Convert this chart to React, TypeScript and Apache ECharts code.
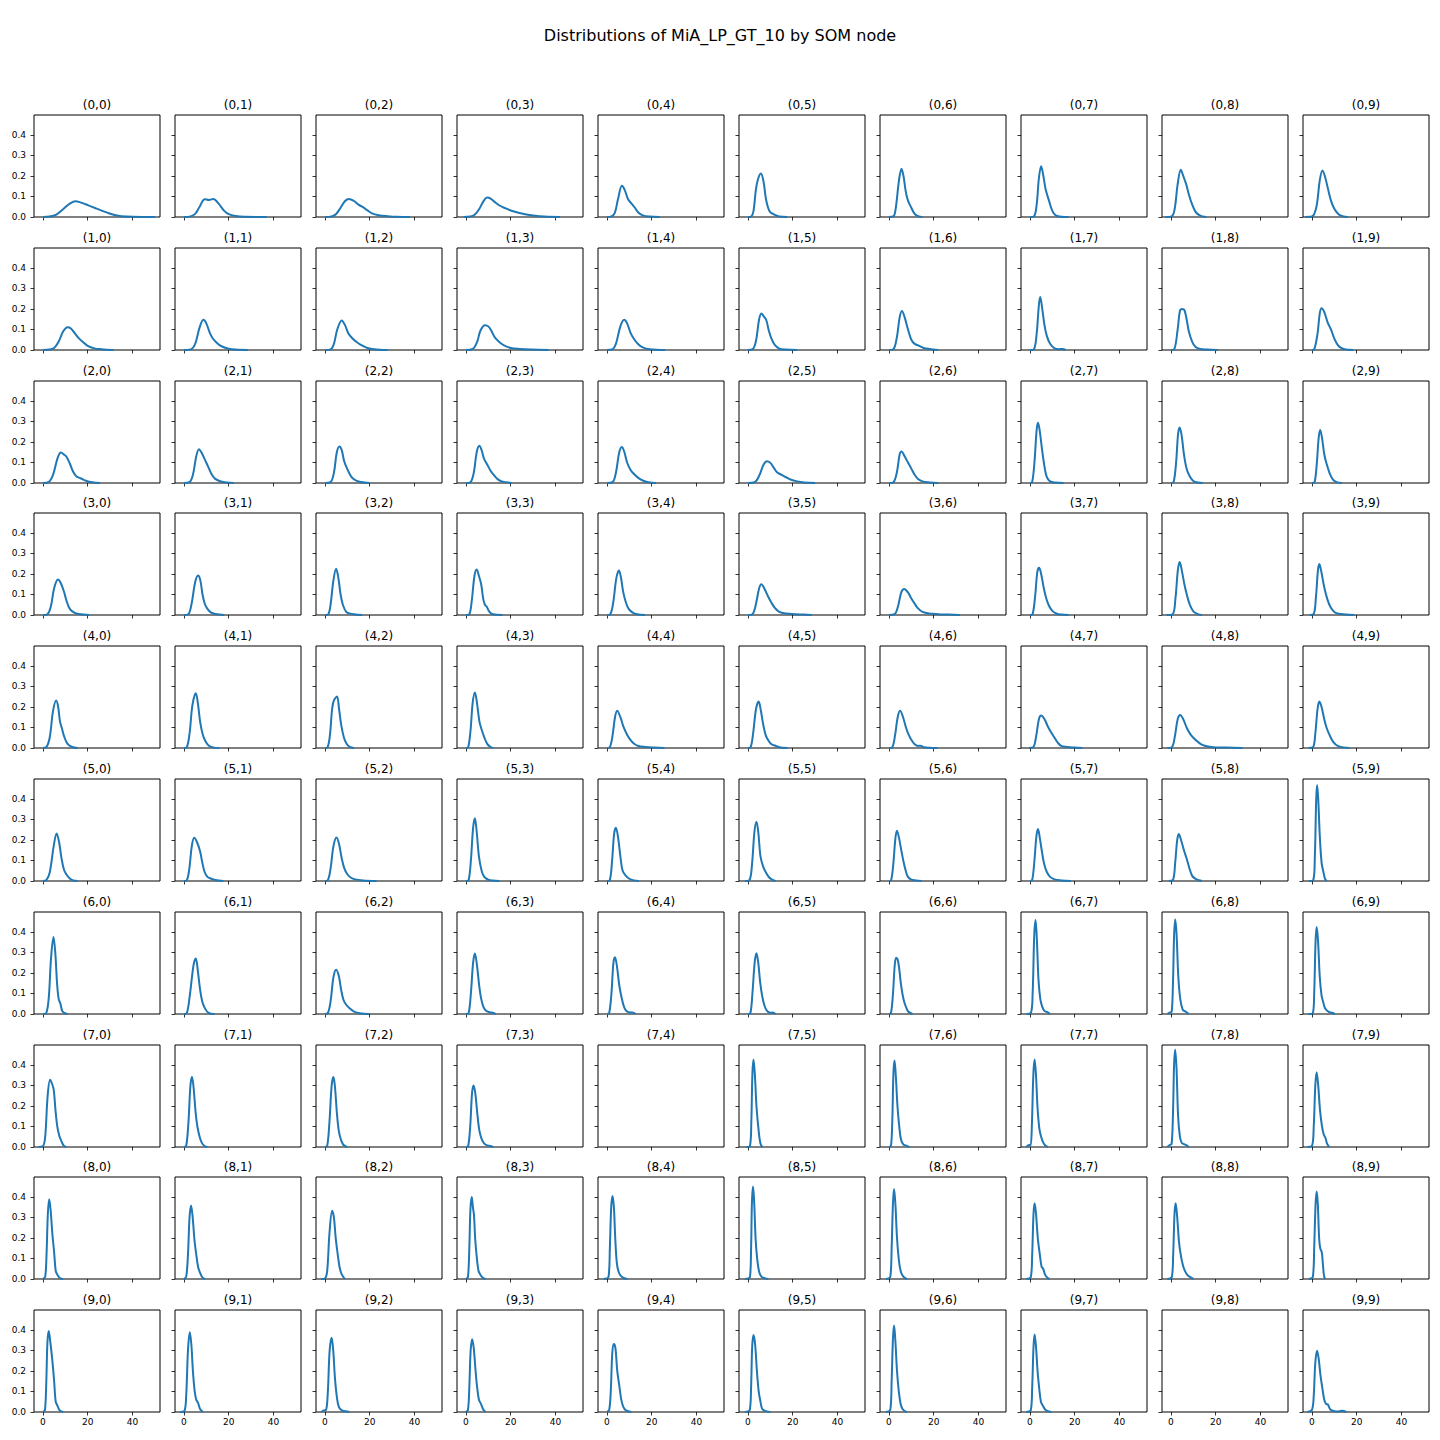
import React, { useEffect, useRef } from "react";
import * as echarts from "echarts";

type Pt = [number, number];
type Curve = Pt[] | null;

const suptitle = "Distributions of MiA_LP_GT_10 by SOM node";
const xTicks = [0, 20, 40];
const yTicks = [0, 0.1, 0.2, 0.3, 0.4];
const xRange = [-4, 52.3];
const yRange = [0, 0.497];

const row0: Curve[] = [
  [[0,0],[3,0.002],[6,0.012],[9,0.038],[12,0.065],[14.5,0.077],[17,0.07],[20,0.058],[23,0.045],[26,0.032],[29,0.02],[32,0.01],[35,0.004],[40,0.001],[50,0]],
  [[0,0],[3,0.003],[5,0.015],[7,0.05],[9.3,0.087],[11.2,0.083],[13.2,0.088],[15.5,0.065],[18,0.03],[20,0.014],[23,0.005],[27,0.001],[37,0]],
  [[0,0],[3,0.003],[5,0.015],[7,0.045],[9,0.078],[10.7,0.088],[13,0.078],[15,0.06],[17,0.048],[19,0.032],[21,0.018],[24,0.009],[28,0.004],[32,0.001],[38,0]],
  [[-1,0],[2,0.002],[4,0.012],[6,0.04],[8,0.08],[9.5,0.095],[11,0.09],[13,0.072],[15,0.056],[17.5,0.043],[20,0.032],[23.5,0.021],[27,0.012],[30,0.007],[35,0.002],[42,0]],
  [[0,0],[2,0.003],[3.5,0.02],[5,0.09],[6.7,0.152],[8,0.13],[9.5,0.085],[11,0.065],[12.5,0.045],[14,0.022],[16,0.008],[19,0.002],[23.5,0]],
  [[0,0],[1.5,0.003],[2.5,0.03],[3.5,0.13],[4.5,0.185],[5.8,0.212],[7,0.17],[8,0.09],[9,0.045],[10,0.022],[11,0.017],[12,0.01],[14,0.002],[17.5,0]],
  [[0,0],[2,0.003],[3,0.04],[4.5,0.18],[5.6,0.235],[6.5,0.2],[7.5,0.125],[8.5,0.08],[10,0.045],[11.5,0.015],[13,0.004],[15,0]],
  [[0,0],[1.8,0.003],[3,0.06],[4,0.19],[5,0.247],[6,0.2],[7,0.135],[8.5,0.08],[10,0.03],[11.5,0.008],[14,0.001],[17.3,0]],
  [[-2.5,0],[0,0.002],[1.5,0.03],[3,0.16],[4.4,0.23],[5.5,0.2],[6.8,0.16],[8,0.11],[9.5,0.06],[11,0.025],[12.5,0.01],[14,0.003],[15.8,0]],
  [[-3,0],[0,0.002],[2,0.05],[3.5,0.18],[4.7,0.227],[6,0.19],[7.2,0.135],[8.5,0.08],[10,0.04],[12,0.012],[14,0.003],[16,0]],
];

const row1: Curve[] = [
  [[0,0],[3,0.002],[5,0.01],[7,0.04],[9,0.09],[11,0.111],[12.5,0.105],[14,0.085],[16,0.058],[18,0.038],[20,0.02],[23,0.008],[26,0.004],[31.5,0]],
  [[0,0],[3,0.003],[5,0.03],[7,0.11],[8.7,0.147],[10,0.13],[11.5,0.085],[13,0.055],[15,0.032],[17,0.017],[20,0.006],[23,0.002],[28.5,0]],
  [[0,0],[2.5,0.003],[4,0.03],[5.5,0.1],[7.5,0.144],[9,0.12],[10.5,0.08],[12,0.06],[14,0.04],[16.5,0.022],[19,0.01],[22,0.004],[28,0]],
  [[0,0],[3,0.005],[5,0.04],[6.5,0.095],[8.5,0.121],[10,0.115],[11.5,0.09],[13,0.06],[15,0.038],[17,0.023],[20,0.01],[24,0.005],[29,0.002],[37,0]],
  [[0,0],[2.5,0.004],[4,0.03],[6,0.115],[7.7,0.147],[9,0.13],[10.5,0.085],[12,0.055],[14,0.028],[16,0.013],[19,0.004],[26,0]],
  [[0,0],[2,0.003],[3.5,0.04],[5,0.15],[6,0.178],[7,0.165],[8.2,0.145],[9.2,0.1],[10.5,0.055],[12,0.025],[14,0.007],[17,0.002],[22,0]],
  [[0,0],[2,0.004],[3.5,0.06],[4.8,0.16],[5.8,0.19],[7,0.16],[8.5,0.1],[10,0.05],[11.5,0.03],[13.5,0.02],[15.5,0.01],[18,0.005],[22,0]],
  [[0,0],[1.8,0.004],[3,0.08],[4,0.22],[4.6,0.258],[5.5,0.2],[6.5,0.12],[7.5,0.07],[9,0.03],[11,0.008],[13,0.004],[14.5,0.005],[16,0]],
  [[0,0],[1.5,0.004],[3,0.1],[4,0.19],[5,0.2],[6,0.195],[7,0.15],[8,0.09],[9.5,0.04],[11,0.015],[13,0.005],[16,0.002],[21,0]],
  [[0,0],[1,0.003],[2.5,0.08],[3.5,0.18],[4.3,0.204],[5.5,0.185],[7,0.135],[8.5,0.1],[10,0.055],[11.5,0.025],[13,0.01],[15,0.003],[18.5,0]],
];

const row2: Curve[] = [
  [[0,0],[2.5,0.004],[4.5,0.04],[6.5,0.12],[8,0.149],[9.5,0.138],[10.5,0.128],[12,0.095],[13.5,0.055],[15,0.032],[17,0.022],[19.5,0.01],[22,0.004],[25.5,0]],
  [[0,0],[2.5,0.004],[4,0.04],[5.5,0.13],[6.7,0.165],[8,0.145],[9.5,0.11],[11,0.075],[12.5,0.04],[14,0.02],[16.5,0.007],[19,0.002],[22.3,0]],
  [[0,0],[2.5,0.004],[4,0.05],[5.3,0.15],[6.5,0.178],[7.5,0.16],[8.5,0.11],[9.5,0.08],[11,0.045],[12.5,0.022],[15,0.007],[20,0]],
  [[0,0],[2,0.004],[3.5,0.05],[4.8,0.15],[6,0.181],[7,0.16],[8,0.12],[9.5,0.09],[11,0.06],[12.5,0.038],[14,0.02],[16,0.008],[20.4,0]],
  [[0,0],[2.5,0.004],[4,0.05],[5.5,0.15],[6.7,0.176],[7.8,0.15],[9,0.1],[10.5,0.065],[12,0.045],[14,0.025],[16,0.012],[18.5,0.004],[22,0]],
  [[0,0],[3,0.004],[5,0.035],[7,0.09],[8.5,0.106],[10,0.098],[11.5,0.075],[13,0.052],[15,0.04],[17,0.028],[19,0.017],[22,0.008],[25,0.003],[30,0]],
  [[0,0],[2,0.004],[3.5,0.05],[4.8,0.14],[5.6,0.154],[7,0.13],[8.5,0.1],[10,0.07],[11.5,0.04],[13,0.02],[15,0.008],[18,0.003],[22,0]],
  [[0,0],[1,0.005],[2,0.1],[3,0.26],[3.6,0.294],[4.3,0.26],[5.5,0.155],[6.5,0.08],[7.5,0.03],[9,0.008],[11,0.002],[15,0]],
  [[0,0],[1.2,0.005],[2.3,0.1],[3.2,0.24],[3.9,0.27],[4.8,0.23],[5.8,0.14],[7,0.07],[8.5,0.03],[10,0.01],[12,0.002],[14.2,0]],
  [[0,0],[1.2,0.005],[2.2,0.1],[3,0.22],[3.7,0.258],[4.5,0.22],[5.5,0.14],[6.5,0.095],[8,0.045],[9.5,0.015],[11,0.004],[13.4,0]],
];

const row3: Curve[] = [
  [[0,0],[2,0.004],[3.5,0.04],[5,0.13],[6.7,0.173],[8,0.155],[9.5,0.11],[10.5,0.07],[12,0.03],[14,0.012],[16,0.005],[20.7,0]],
  [[0,0],[2,0.004],[3.5,0.06],[5,0.16],[6.3,0.193],[7.3,0.17],[8.3,0.1],[9.3,0.055],[10.5,0.03],[12,0.013],[14,0.005],[18,0]],
  [[0,0],[1.5,0.004],[2.5,0.05],[3.8,0.17],[5,0.225],[6,0.18],[7,0.1],[8,0.05],[9.5,0.015],[11,0.008],[13,0.004],[16.7,0]],
  [[0,0],[1.5,0.004],[2.5,0.06],[3.8,0.19],[4.8,0.222],[5.8,0.19],[6.8,0.15],[7.7,0.08],[8.5,0.05],[9.3,0.04],[10.5,0.015],[12,0.004],[16.3,0]],
  [[0,0],[1.5,0.004],[2.8,0.06],[4.2,0.18],[5.4,0.217],[6.3,0.18],[7.3,0.11],[8.5,0.06],[9.7,0.03],[11.5,0.012],[13.5,0.004],[17,0]],
  [[0,0],[2,0.004],[3.5,0.05],[5,0.13],[6,0.15],[7.5,0.125],[9,0.09],[10.5,0.06],[12,0.035],[14,0.015],[17,0.007],[21,0.004],[25,0.002],[28.5,0]],
  [[0,0],[2.5,0.004],[4,0.04],[5.5,0.11],[6.8,0.127],[8.5,0.11],[10,0.08],[11.5,0.055],[13,0.032],[15,0.015],[18,0.007],[22,0.004],[27,0.002],[31.7,0]],
  [[0,0],[1.2,0.005],[2.3,0.09],[3.3,0.21],[4.1,0.23],[5,0.2],[6.2,0.13],[7.3,0.08],[8.5,0.045],[10,0.02],[12,0.006],[14,0.002],[17.3,0]],
  [[-2,0],[0.8,0.004],[2,0.08],[3.1,0.22],[3.9,0.258],[4.8,0.22],[6,0.15],[7.3,0.09],[8.5,0.048],[10,0.018],[12,0.004],[13.8,0]],
  [[-1,0],[0.8,0.005],[1.8,0.09],[2.7,0.22],[3.3,0.248],[4.2,0.21],[5.5,0.135],[6.8,0.08],[8.2,0.04],[10,0.015],[12,0.006],[15,0.003],[19,0]],
];

const row4: Curve[] = [
  [[0,0],[1.5,0.004],[3,0.05],[4.5,0.18],[5.9,0.231],[6.8,0.2],[7.6,0.13],[8.5,0.095],[9.5,0.055],[11,0.02],[13,0.005],[15.5,0]],
  [[0,0],[1.3,0.004],[2.5,0.07],[3.8,0.21],[5.3,0.267],[6.2,0.22],[7.2,0.13],[8.3,0.07],[9.5,0.035],[11,0.012],[13,0.003],[15.7,0]],
  [[0,0],[1.2,0.004],[2.2,0.06],[3.2,0.19],[4,0.232],[5.4,0.251],[6.3,0.19],[7.3,0.11],[8.5,0.05],[9.6,0.022],[11,0.006],[13,0]],
  [[0,0],[1,0.004],[2,0.08],[3,0.22],[4,0.271],[4.8,0.23],[6,0.13],[7,0.09],[8.2,0.052],[9.5,0.02],[11,0.005],[12.2,0]],
  [[0,0],[1.3,0.004],[2.5,0.06],[3.6,0.15],[4.6,0.181],[6,0.15],[7.5,0.1],[9,0.065],[10.5,0.04],[12,0.022],[14,0.01],[17,0.005],[21,0.002],[25.7,0]],
  [[0,0],[1.2,0.004],[2.3,0.07],[3.6,0.19],[4.8,0.227],[5.8,0.18],[6.9,0.11],[8,0.06],[9.2,0.035],[10.5,0.018],[12,0.012],[14,0.004],[17.7,0]],
  [[0,0],[1.5,0.004],[2.7,0.06],[3.9,0.15],[5,0.181],[6.3,0.15],[7.6,0.1],[8.8,0.065],[10,0.04],[11.5,0.018],[13,0.01],[14,0.011],[15.5,0.004],[18,0.001],[21.8,0]],
  [[-0.5,0],[1.5,0.004],[2.8,0.06],[4,0.14],[5,0.158],[6.5,0.14],[8,0.105],[9.5,0.075],[11,0.05],[12.5,0.025],[14,0.01],[16.5,0.005],[20,0.002],[23.4,0]],
  [[-1.5,0],[0.5,0.005],[1.8,0.06],[3,0.14],[4.1,0.161],[5.5,0.14],[7,0.1],[8.5,0.07],[10,0.05],[12,0.03],[14,0.015],[16.5,0.007],[20,0.003],[25,0.002],[32,0]],
  [[-1.5,0],[0.5,0.004],[1.5,0.07],[2.5,0.19],[3.3,0.226],[4.3,0.2],[5.5,0.14],[6.5,0.1],[8,0.06],[9.5,0.03],[11.5,0.01],[14,0.003],[16.8,0]],
];

const row5: Curve[] = [
  [[0,0],[1.5,0.004],[3,0.04],[4.8,0.17],[6.1,0.232],[7.2,0.19],[8.3,0.11],[9.4,0.055],[10.5,0.032],[12,0.012],[13.5,0.003],[15.5,0]],
  [[0,0],[1.3,0.004],[2.4,0.06],[3.5,0.17],[4.6,0.211],[5.8,0.19],[7.2,0.145],[8.2,0.09],[9.2,0.045],[10.5,0.02],[12,0.012],[14,0.005],[17.6,0]],
  [[0,0],[1.3,0.004],[2.5,0.06],[3.8,0.17],[5.2,0.212],[6.3,0.18],[7.5,0.11],[8.7,0.06],[10,0.033],[11.5,0.017],[13.5,0.008],[17,0.003],[23,0]],
  [[0,0],[1.2,0.005],[2.2,0.1],[3.2,0.26],[4,0.306],[4.8,0.24],[5.8,0.12],[7,0.05],[8.2,0.02],[10,0.006],[12,0.002],[14.9,0]],
  [[0,0],[1.3,0.005],[2.3,0.1],[3.2,0.23],[4,0.26],[5,0.21],[6,0.12],[7,0.05],[8.5,0.025],[10,0.011],[12,0.003],[14.2,0]],
  [[-1.3,0],[0.7,0.005],[1.8,0.08],[2.9,0.24],[3.8,0.289],[4.6,0.24],[5.6,0.12],[6.8,0.07],[8,0.042],[9.5,0.017],[11,0.005],[12.4,0]],
  [[0,0],[1,0.005],[2,0.09],[2.9,0.21],[3.6,0.245],[4.5,0.21],[5.5,0.15],[6.4,0.1],[7.5,0.05],[8.5,0.02],[10,0.007],[12,0.003],[14.6,0]],
  [[0,0],[1,0.005],[2,0.1],[2.9,0.22],[3.6,0.253],[4.4,0.21],[5.4,0.14],[6.3,0.085],[7.5,0.045],[9,0.02],[11,0.008],[14,0.003],[18.3,0]],
  [[-1,0],[0.9,0.005],[1.9,0.09],[2.8,0.2],[3.5,0.229],[4.5,0.2],[5.8,0.15],[7,0.11],[8.3,0.06],[9.5,0.025],[11,0.01],[12.5,0.004],[13.8,0]],
  [[-1.4,0],[0.6,0.005],[1.3,0.12],[1.9,0.4],[2.3,0.468],[2.8,0.4],[3.5,0.22],[4.3,0.09],[5.1,0.045],[5.8,0.012],[6.6,0]],
];

const row6: Curve[] = [
  [[0,0],[1.5,0.005],[2.6,0.08],[3.6,0.27],[4.7,0.375],[5.5,0.3],[6.3,0.15],[7,0.075],[7.8,0.05],[8.6,0.015],[9.5,0.006],[11,0]],
  [[0,0],[1.3,0.005],[2.5,0.08],[3.8,0.2],[4.5,0.25],[5.3,0.27],[6.2,0.21],[7.2,0.12],[8.2,0.06],[9.5,0.025],[11,0.006],[13.7,0]],
  [[0,0],[1.3,0.005],[2.5,0.06],[3.8,0.18],[5,0.216],[6.2,0.185],[7.2,0.12],[8.3,0.068],[9.5,0.045],[11,0.028],[13,0.012],[15.5,0.004],[19.8,0]],
  [[0,0],[1.2,0.005],[2.2,0.1],[3.2,0.25],[4,0.295],[4.9,0.24],[5.9,0.14],[6.8,0.075],[7.8,0.035],[9,0.016],[10.5,0.009],[11.5,0.007],[13.3,0]],
  [[0,0],[1,0.005],[2,0.1],[2.9,0.25],[3.6,0.276],[4.5,0.23],[5.5,0.14],[6.6,0.077],[7.8,0.03],[9,0.012],[10.5,0.007],[11.4,0.007],[12.9,0]],
  [[0,0],[1.1,0.005],[2,0.1],[3,0.25],[3.8,0.296],[4.6,0.25],[5.5,0.15],[6.4,0.085],[7.4,0.04],[8.5,0.015],[10,0.006],[11,0.007],[12.4,0]],
  [[0,0],[0.9,0.005],[1.8,0.1],[2.6,0.24],[3.2,0.274],[3.9,0.265],[4.6,0.22],[5.3,0.15],[6,0.1],[6.8,0.06],[7.6,0.035],[8.6,0.012],[10.5,0]],
  [[-1.6,0],[0.4,0.005],[1.2,0.1],[1.9,0.38],[2.5,0.458],[3.1,0.36],[3.8,0.17],[4.6,0.075],[5.5,0.035],[6.5,0.015],[7.5,0.01],[9.1,0]],
  [[-1.6,0],[-0.5,0.008],[0.3,0.01],[0.9,0.15],[1.4,0.38],[1.9,0.461],[2.5,0.39],[3.3,0.18],[4.2,0.07],[5.3,0.02],[6.5,0.012],[8,0]],
  [[-1.6,0],[0.4,0.005],[1,0.1],[1.6,0.35],[2.1,0.424],[2.7,0.36],[3.5,0.18],[4.3,0.09],[5.1,0.055],[6,0.025],[7.5,0.01],[9,0.006],[10.3,0]],
];

const row7: Curve[] = [
  [[-2,0],[0,0.004],[1,0.05],[2.1,0.25],[3.2,0.328],[4,0.31],[4.8,0.28],[5.6,0.18],[6.4,0.1],[7.3,0.055],[8.2,0.03],[9.2,0.008],[10.4,0]],
  [[0,0],[1,0.005],[2,0.12],[2.9,0.3],[3.6,0.341],[4.3,0.29],[5.2,0.17],[6,0.1],[7,0.05],[8,0.02],[9.2,0.005],[10.4,0]],
  [[0,0],[1,0.005],[2,0.12],[3,0.3],[3.8,0.341],[4.5,0.29],[5.3,0.17],[6.1,0.085],[7,0.04],[8,0.014],[9,0.004],[10,0]],
  [[0,0],[1,0.005],[1.9,0.1],[2.7,0.26],[3.4,0.3],[4.2,0.26],[5.1,0.16],[6,0.08],[7,0.04],[8.1,0.018],[9.5,0.008],[11,0.005],[12.2,0]],
  null,
  [[-0.7,0],[0.9,0.005],[1.5,0.12],[2,0.36],[2.5,0.426],[3.1,0.35],[3.8,0.2],[4.5,0.11],[5.2,0.04],[5.8,0.01],[6.5,0]],
  [[0,0],[0.9,0.005],[1.5,0.13],[2,0.36],[2.5,0.421],[3.1,0.34],[3.8,0.2],[4.6,0.1],[5.4,0.035],[6.5,0.012],[7.5,0.008],[9.1,0]],
  [[-1.6,0],[-0.3,0.01],[0.3,0.008],[0.9,0.12],[1.5,0.35],[2.1,0.426],[2.7,0.35],[3.4,0.19],[4.2,0.09],[5,0.05],[6,0.02],[7,0.006],[8,0]],
  [[-1.6,0],[-0.5,0.01],[0.3,0.015],[0.9,0.16],[1.4,0.4],[1.9,0.474],[2.5,0.38],[3.2,0.15],[4,0.05],[4.8,0.02],[5.6,0.015],[6.6,0.01],[8,0]],
  [[-2,0],[0,0.005],[0.8,0.1],[1.5,0.3],[2.1,0.364],[2.8,0.3],[3.6,0.18],[4.5,0.1],[5.3,0.06],[6,0.045],[6.8,0.015],[7.8,0]],
];

const row8: Curve[] = [
  [[0,0],[1,0.01],[1.6,0.12],[2.2,0.32],[2.8,0.389],[3.4,0.34],[4.2,0.22],[5,0.13],[5.7,0.04],[6.5,0.02],[7.5,0.005],[9,0]],
  [[0,0],[1,0.01],[1.8,0.12],[2.5,0.3],[3.2,0.358],[3.9,0.3],[4.7,0.19],[5.5,0.12],[6.3,0.06],[7.2,0.03],[8.2,0.008],[9.4,0]],
  [[-1.7,0],[0,0.003],[1,0.04],[2,0.22],[3.2,0.333],[4,0.3],[4.8,0.2],[5.7,0.12],[6.5,0.06],[7.4,0.025],[8.9,0]],
  [[0,0],[0.9,0.01],[1.5,0.15],[2,0.34],[2.6,0.399],[3.1,0.35],[3.6,0.31],[4.1,0.2],[4.8,0.11],[5.6,0.04],[6.5,0.02],[7.5,0.006],[8.7,0]],
  [[-1.5,0],[0.7,0.01],[1.3,0.15],[1.9,0.35],[2.5,0.405],[3.1,0.35],[3.7,0.2],[4.4,0.08],[5.2,0.035],[6.2,0.015],[7.5,0.005],[9.1,0]],
  [[-1.4,0],[0.9,0.01],[1.4,0.15],[1.8,0.38],[2.3,0.451],[2.8,0.37],[3.4,0.2],[4.1,0.1],[5,0.035],[6,0.012],[7.5,0.004],[9.1,0]],
  [[-1.4,0],[0.6,0.01],[1.2,0.15],[1.8,0.37],[2.3,0.438],[2.9,0.36],[3.6,0.2],[4.4,0.095],[5.2,0.04],[6,0.018],[7,0.006],[8.1,0]],
  [[-1.6,0],[0.4,0.01],[1,0.12],[1.6,0.32],[2.1,0.369],[2.7,0.32],[3.5,0.2],[4.4,0.12],[5.2,0.06],[5.9,0.05],[6.8,0.02],[7.8,0.006],[8.7,0]],
  [[-1.6,0],[0.4,0.01],[1,0.12],[1.6,0.32],[2.1,0.369],[2.8,0.3],[3.6,0.18],[4.5,0.11],[5.4,0.065],[6.3,0.038],[7.3,0.02],[8.5,0.01],[10.1,0]],
  [[-1.4,0],[0.4,0.01],[1,0.15],[1.6,0.36],[2.1,0.426],[2.6,0.37],[3.2,0.2],[3.7,0.15],[4.4,0.13],[4.9,0.07],[5.4,0.015],[5.9,0]],
];

const row9: Curve[] = [
  [[0,0],[0.9,0.01],[1.5,0.15],[2,0.34],[2.6,0.395],[3.3,0.34],[4.2,0.25],[5,0.15],[5.7,0.05],[6.5,0.03],[7.5,0.008],[9,0]],
  [[-1.7,0],[0.2,0.005],[1,0.08],[1.8,0.3],[2.6,0.388],[3.3,0.33],[4,0.2],[4.8,0.1],[5.5,0.06],[6.3,0.045],[7.2,0.015],[8.5,0]],
  [[-1.7,0],[-0.5,0.008],[0.5,0.01],[1.3,0.1],[2.1,0.3],[3,0.362],[3.7,0.3],[4.5,0.16],[5.3,0.075],[6.2,0.025],[7.5,0.008],[9,0.004],[11,0]],
  [[0,0],[0.9,0.01],[1.5,0.12],[2.1,0.3],[2.8,0.355],[3.5,0.31],[4.3,0.2],[5,0.12],[5.8,0.06],[6.7,0.04],[7.6,0.015],[8.7,0]],
  [[0,0],[1,0.01],[1.7,0.1],[2.4,0.29],[3.1,0.331],[3.8,0.31],[4.6,0.2],[5.5,0.13],[6.4,0.06],[7.3,0.025],[8.5,0.008],[10.8,0]],
  [[-1.4,0],[0.8,0.01],[1.4,0.12],[1.9,0.32],[2.5,0.375],[3.2,0.33],[4,0.2],[4.8,0.1],[5.6,0.05],[6.4,0.015],[8,0.004],[10,0]],
  [[-1.4,0],[0.6,0.01],[1.2,0.15],[1.8,0.36],[2.3,0.421],[2.9,0.34],[3.6,0.2],[4.4,0.1],[5.2,0.04],[6,0.016],[7,0.005],[8.1,0]],
  [[-1.6,0],[0.4,0.01],[1,0.12],[1.6,0.32],[2.1,0.378],[2.7,0.32],[3.4,0.2],[4.1,0.12],[4.9,0.05],[5.8,0.03],[7,0.01],[9.5,0]],
  null,
  [[-2,0],[0,0.01],[0.8,0.08],[1.5,0.24],[2.3,0.298],[3,0.26],[3.8,0.18],[4.6,0.12],[5.5,0.06],[6.3,0.04],[7.2,0.035],[8.2,0.012],[10,0.004],[12,0.003],[13.4,0.006],[15.4,0]],
];

const rows: Curve[][] = [row0, row1, row2, row3, row4, row5, row6, row7, row8, row9];

export default function App() {
  const ref = useRef<HTMLDivElement>(null);

  useEffect(() => {
    document.body.style.margin = "0";
    if (!ref.current) return;
    const chart = echarts.init(ref.current, null, { renderer: "svg" });
    const FONT = "DejaVu Sans";
    const left0 = 34, top0 = 115, dx = 141, dy = 132.8, w = 126, h = 102;
    const grids: any[] = [];
    const xAxes: any[] = [];
    const yAxes: any[] = [];
    const series: any[] = [];
    const graphics: any[] = [
      {
        type: "text",
        x: 720,
        y: 35.5,
        style: {
          text: suptitle,
          fontSize: 16,
          fontFamily: FONT,
          fill: "#000",
          align: "center",
          verticalAlign: "middle",
        },
      },
    ];

    rows.forEach((row, r) => {
      row.forEach((curve, c) => {
        const i = grids.length;
        const left = left0 + c * dx;
        const top = Math.round(top0 + r * dy);
        grids.push({
          left,
          top,
          width: w,
          height: h,
          show: true,
          borderColor: "#000",
          borderWidth: 1,
          backgroundColor: "transparent",
          containLabel: false,
        });
        xAxes.push({
          type: "value",
          gridIndex: i,
          min: xRange[0],
          max: xRange[1],
          axisLine: { show: false, onZero: false },
          splitLine: { show: false },
          axisTick: {
            show: true,
            inside: false,
            length: 3.5,
            customValues: xTicks,
            lineStyle: { color: "#000", width: 0.8 },
          },
          axisLabel: {
            show: r === 9,
            customValues: xTicks,
            fontSize: 9,
            fontFamily: FONT,
            color: "#000",
            margin: 5,
            formatter: (v: number) => String(v),
          },
        });
        yAxes.push({
          type: "value",
          gridIndex: i,
          min: yRange[0],
          max: yRange[1],
          axisLine: { show: false, onZero: false },
          splitLine: { show: false },
          axisTick: {
            show: true,
            inside: false,
            length: 3.5,
            customValues: yTicks,
            lineStyle: { color: "#000", width: 0.8 },
          },
          axisLabel: {
            show: c === 0,
            customValues: yTicks,
            fontSize: 9,
            fontFamily: FONT,
            color: "#000",
            margin: 8,
            formatter: (v: number) => v.toFixed(1),
          },
        });
        graphics.push({
          type: "text",
          x: left + w / 2,
          y: top - 10,
          style: {
            text: `(${r},${c})`,
            fontSize: 12,
            fontFamily: FONT,
            fill: "#000",
            align: "center",
            verticalAlign: "middle",
          },
        });
        if (curve) {
          series.push({
            type: "line",
            xAxisIndex: i,
            yAxisIndex: i,
            data: curve,
            showSymbol: false,
            symbol: "none",
            smooth: 0.35,
            lineStyle: { color: "#1f77b4", width: 2 },
            silent: true,
            animation: false,
          });
        }
      });
    });

    chart.setOption({
      animation: false,
      grid: grids,
      xAxis: xAxes,
      yAxis: yAxes,
      series,
      graphic: { elements: graphics },
    });

    return () => chart.dispose();
  }, []);

  return <div ref={ref} style={{ width: 1440, height: 1440 }} />;
}
